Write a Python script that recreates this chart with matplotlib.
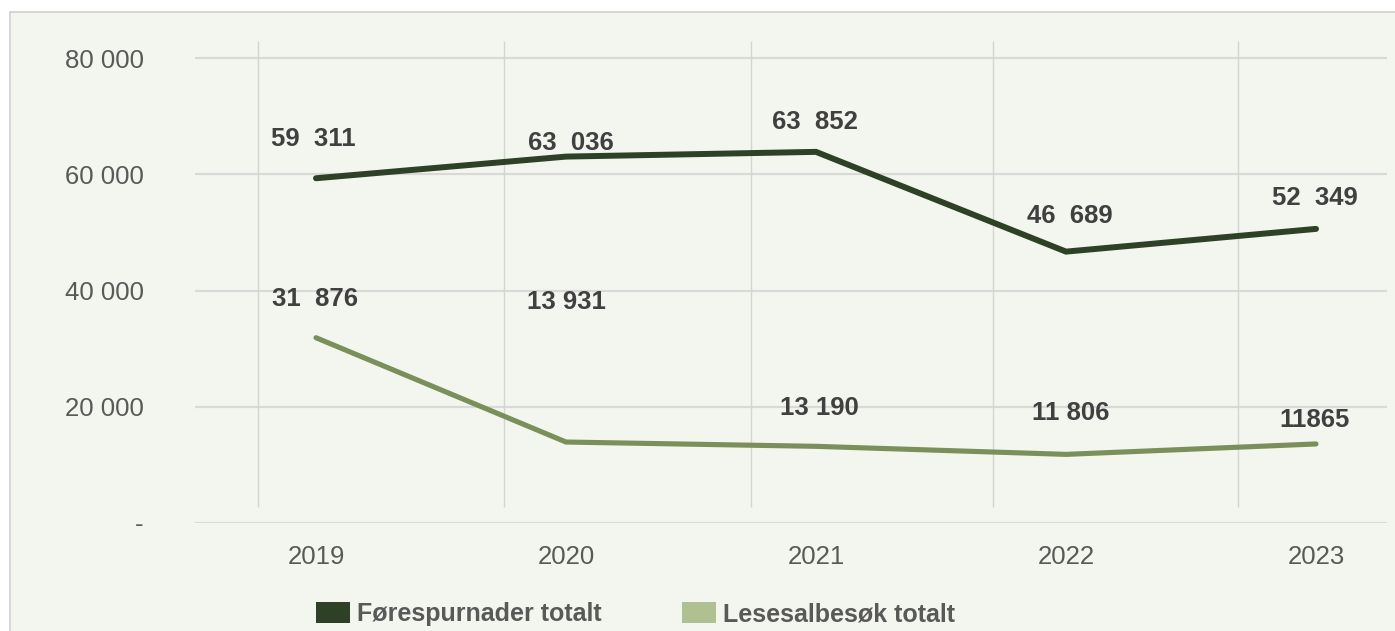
import matplotlib
matplotlib.use("Agg")
import matplotlib.pyplot as plt
from matplotlib.patches import Rectangle, Patch

plt.rcParams['font.family'] = ['Liberation Sans', 'DejaVu Sans']

years = ['2019', '2020', '2021', '2022', '2023']
forespurnader = [59311, 63036, 63852, 46689, 50600]
lesesal = [31876, 13931, 13190, 11806, 13600]
forespurnader_labels = ['59  311', '63  036', '63  852', '46  689', '52  349']
lesesal_labels = ['31  876', '13 931', '13 190', '11 806', '11865']
y_ticks = [0, 20000, 40000, 60000, 80000]
y_ticklabels = ['-', '20 000', '40 000', '60 000', '80 000']

dark = '#2E4127'
mid = '#7B8F5A'
light = '#AFC191'
bg = '#F3F6EE'

W, H = 1395, 631
fig = plt.figure(figsize=(W / 100, H / 100), dpi=100, facecolor='white')

# chart panel background with thin border
fig.patches.append(Rectangle((10 / W, -0.05), 1.1, (H - 12) / H + 0.05,
                             transform=fig.transFigure, facecolor=bg,
                             edgecolor='#D0D0D0', linewidth=1.2, zorder=-5))

ax = fig.add_axes([195 / W, (H - 523) / H, (1387 - 195) / W, (523 - 41) / H])
ax.set_facecolor('none')
ax.set_zorder(2)
x = list(range(len(years)))
ymax = 80000 * (523 - 41) / 465
ax.set_ylim(0, ymax)
ax.set_xlim((195 - 316) / 250, (1387 - 316) / 250)

# gridlines
for t in y_ticks:
    ax.axhline(t, color='#D9D9D9', linewidth=1.6, zorder=1)
for gx in [-0.232, 0.752, 1.74, 2.708, 3.688]:
    ax.vlines(gx, 80000 * 16 / 465, ymax, color='#D4D4D4', linewidth=1.0, zorder=1)

ax.plot(x, forespurnader, color=dark, linewidth=4.3, solid_capstyle='round',
        solid_joinstyle='miter', zorder=3)
ax.plot(x, lesesal, color=mid, linewidth=3.7, solid_capstyle='round',
        solid_joinstyle='miter', zorder=3)

# data labels (pixel offsets above each point)
dark_off = [(-3, 39), (5, 14), (-1, 30), (4, 36), (-1, 31)]
light_off = [(-1, 39), (0, 140), (3, 38), (5, 41), (-1, 24)]
for xi, v, s, (dx, dy) in zip(x, forespurnader, forespurnader_labels, dark_off):
    ax.annotate(s, (xi, v), xytext=(dx * 0.72, dy * 0.72), textcoords='offset points',
                ha='center', va='center', fontsize=18.5, fontweight='bold', color='#404040')
for xi, v, s, (dx, dy) in zip(x, lesesal, lesesal_labels, light_off):
    ax.annotate(s, (xi, v), xytext=(dx * 0.72, dy * 0.72), textcoords='offset points',
                ha='center', va='center', fontsize=18.5, fontweight='bold', color='#404040')

ax.set_yticks(y_ticks)
ax.set_yticklabels(y_ticklabels, fontsize=18.5, color='#595959')
ax.set_xticks(x)
ax.set_xticklabels(years, fontsize=18.5, color='#595959')
ax.tick_params(axis='both', length=0)
ax.tick_params(axis='y', pad=37)
ax.tick_params(axis='x', pad=16)
for sp in ax.spines.values():
    sp.set_visible(False)

handles = [Patch(facecolor=dark, edgecolor='none', label='Førespurnader totalt'),
           Patch(facecolor=light, edgecolor='none', label='Lesesalbesøk totalt')]
fig.legend(handles=handles, loc='upper left', bbox_to_anchor=(316 / W, (H - 602) / H),
           ncol=2, frameon=False, handlelength=1.35, handleheight=0.9,
           handletextpad=0.3, columnspacing=3.2,
           prop={'size': 18, 'weight': 'bold'}, labelcolor='#595959',
           borderpad=0, borderaxespad=0)

fig.savefig('out.png', dpi=100, facecolor='white')
